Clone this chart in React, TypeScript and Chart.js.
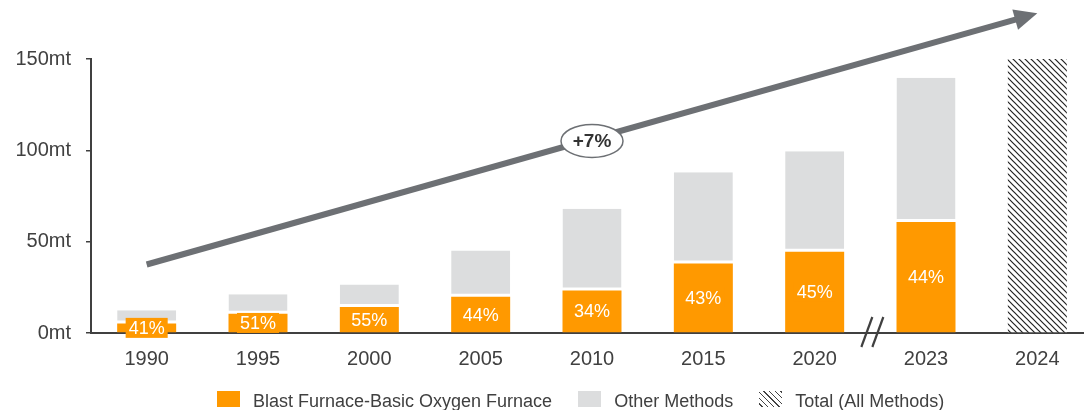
import React, { useEffect, useRef } from "react";
import { Chart, registerables } from "chart.js";

Chart.register(...registerables);

const years = ["1990", "1995", "2000", "2005", "2010", "2015", "2020", "2023", "2024"];
const bfBofValues = [5.2, 10.6, 14.2, 19.8, 23.3, 38.0, 44.5, 60.8, null];
const otherValues = [7.3, 10.6, 12.3, 25.3, 44.7, 50.0, 55.0, 79.0, null];
const totalValues = [null, null, null, null, null, null, null, null, 150];
const shareLabels = ["41%", "51%", "55%", "44%", "34%", "43%", "45%", "44%"];
const seriesNames = ["Blast Furnace-Basic Oxygen Furnace", "Other Methods", "Total (All Methods)"];
const cagrLabel = "+7%";
// trend arrow anchors (category index, value)
const arrowStart = { index: 0, value: 37.5 };
const arrowEnd = { index: 8, value: 175 };
const breakBetween = [6, 7];

const ORANGE = "#FF9900";
const GREY = "#DCDDDE";
const DARK = "#404040";
const ARROW = "#6D7074";
const FONT = "'Liberation Sans', Arial, sans-serif";

function makePattern(): CanvasPattern | string {
  const s = 6;
  const c = document.createElement("canvas");
  c.width = s;
  c.height = s;
  const g = c.getContext("2d");
  if (!g) return "#333";
  g.fillStyle = "#fff";
  g.fillRect(0, 0, s, s);
  g.strokeStyle = "#222";
  g.lineWidth = 1.2;
  g.beginPath();
  g.moveTo(0, 0);
  g.lineTo(s, s);
  g.moveTo(-1, s - 1);
  g.lineTo(1, s + 1);
  g.moveTo(s - 1, -1);
  g.lineTo(s + 1, 1);
  g.stroke();
  const p = g.createPattern(c, "repeat");
  return p || "#333";
}

const overlayPlugin = {
  id: "overlay",
  afterDatasetsDraw(chart: any) {
    const ctx = chart.ctx;
    const meta = chart.getDatasetMeta(0);
    ctx.save();
    ctx.font = `18px ${FONT}`;
    ctx.textAlign = "center";
    ctx.textBaseline = "middle";
    meta.data.forEach((bar: any, i: number) => {
      const label = shareLabels[i];
      if (!label) return;
      const cx = bar.x;
      const cy = (bar.y + bar.base) / 2;
      const w = ctx.measureText(label).width + 6;
      ctx.fillStyle = ORANGE;
      ctx.fillRect(cx - w / 2, cy - 10, w, 20);
      ctx.fillStyle = "#ffffff";
      ctx.fillText(label, cx, cy + 1);
    });
    ctx.restore();
  },
  afterDraw(chart: any) {
    const ctx = chart.ctx;
    const xs = chart.scales.x;
    const ys = chart.scales.y;
    ctx.save();
    // axis break marks
    const bx = (xs.getPixelForValue(breakBetween[0]) + xs.getPixelForValue(breakBetween[1])) / 2 + 2;
    const by = chart.chartArea.bottom;
    ctx.strokeStyle = DARK;
    ctx.lineWidth = 2.2;
    [-5.5, 5.5].forEach((off) => {
      ctx.beginPath();
      ctx.moveTo(bx + off - 5.5, by + 14);
      ctx.lineTo(bx + off + 5.5, by - 16);
      ctx.stroke();
    });
    // trend arrow
    const x1 = xs.getPixelForValue(arrowStart.index);
    const y1 = ys.getPixelForValue(arrowStart.value);
    const x2 = xs.getPixelForValue(arrowEnd.index);
    const y2 = ys.getPixelForValue(arrowEnd.value);
    const ang = Math.atan2(y2 - y1, x2 - x1);
    const headLen = 23;
    const headHalf = 10.5;
    const bxp = x2 - headLen * Math.cos(ang);
    const byp = y2 - headLen * Math.sin(ang);
    ctx.strokeStyle = ARROW;
    ctx.lineWidth = 6;
    ctx.beginPath();
    ctx.moveTo(x1, y1);
    ctx.lineTo(bxp + 2 * Math.cos(ang), byp + 2 * Math.sin(ang));
    ctx.stroke();
    ctx.fillStyle = ARROW;
    ctx.beginPath();
    ctx.moveTo(x2, y2);
    ctx.lineTo(bxp + headHalf * Math.sin(ang), byp - headHalf * Math.cos(ang));
    ctx.lineTo(bxp - headHalf * Math.sin(ang), byp + headHalf * Math.cos(ang));
    ctx.closePath();
    ctx.fill();
    // CAGR ellipse
    const ex = (x1 + x2) / 2;
    const ey = (y1 + y2) / 2 + 2;
    ctx.beginPath();
    ctx.ellipse(ex, ey, 31, 16.5, 0, 0, Math.PI * 2);
    ctx.fillStyle = "#ffffff";
    ctx.fill();
    ctx.lineWidth = 1.5;
    ctx.strokeStyle = ARROW;
    ctx.stroke();
    ctx.fillStyle = "#333333";
    ctx.font = `bold 19px ${FONT}`;
    ctx.textAlign = "center";
    ctx.textBaseline = "middle";
    ctx.fillText(cagrLabel, ex, ey + 1);
    ctx.restore();
  },
};

export default function App() {
  const ref = useRef<HTMLCanvasElement | null>(null);

  useEffect(() => {
    document.documentElement.style.overflow = "hidden";
    document.body.style.overflow = "hidden";
    const canvas = ref.current;
    if (!canvas) return;
    const pattern = makePattern();
    const chart = new Chart(canvas, {
      type: "bar",
      data: {
        labels: years,
        datasets: [
          {
            label: seriesNames[0],
            data: bfBofValues as any,
            backgroundColor: ORANGE,
            borderWidth: 0,
            barPercentage: 0.53,
            categoryPercentage: 1,
          },
          {
            label: seriesNames[1],
            data: otherValues as any,
            backgroundColor: GREY,
            borderColor: "#ffffff",
            borderWidth: { top: 0, left: 0, right: 0, bottom: 3 } as any,
            borderSkipped: false,
            barPercentage: 0.53,
            categoryPercentage: 1,
          },
          {
            label: seriesNames[2],
            data: totalValues as any,
            backgroundColor: pattern as any,
            borderWidth: 0,
            barPercentage: 0.53,
            categoryPercentage: 1,
          },
        ],
      },
      options: {
        responsive: false,
        animation: false,
        layout: { padding: { top: 59, bottom: 0, left: 0, right: 0 } },
        plugins: {
          legend: { display: false },
          tooltip: { enabled: false },
        },
        scales: {
          x: {
            stacked: true,
            grid: { display: false },
            border: { display: true, color: DARK, width: 2 },
            ticks: { color: DARK, font: { size: 20, family: FONT }, padding: 6 },
            afterFit(scale: any) {
              scale.height = 77;
            },
          },
          y: {
            stacked: true,
            min: 0,
            max: 150,
            grid: {
              display: true,
              drawOnChartArea: false,
              drawTicks: true,
              tickLength: 5,
              color: DARK,
              lineWidth: 1.5,
            },
            border: { display: true, color: DARK, width: 2 },
            ticks: {
              stepSize: 50,
              color: DARK,
              padding: 15,
              font: { size: 20, family: FONT },
              callback: (v: any) => `${v}mt`,
            },
            afterFit(scale: any) {
              scale.width = 91;
            },
          },
        },
      },
      plugins: [overlayPlugin],
    });
    return () => chart.destroy();
  }, []);

  const itemText: React.CSSProperties = {
    fontFamily: FONT,
    fontSize: 18,
    color: DARK,
    lineHeight: "18px",
    whiteSpace: "nowrap",
  };
  const box = (bg: string): React.CSSProperties => ({
    width: 23,
    height: 16,
    background: bg,
    marginRight: 13,
    position: "relative",
    top: -1,
    flex: "none",
  });

  return (
    <div style={{ position: "absolute", left: 0, top: 0, width: 1093, height: 410 }}>
      <canvas ref={ref} width={1093} height={410} style={{ display: "block" }} />
      <div
        style={{
          position: "absolute",
          left: 217,
          top: 392,
          display: "flex",
          alignItems: "flex-start",
          height: 18,
        }}
      >
        <div style={box(ORANGE)} />
        <div style={{ ...itemText, marginRight: 26 }}>{seriesNames[0]}</div>
        <div style={box(GREY)} />
        <div style={{ ...itemText, marginRight: 26 }}>{seriesNames[1]}</div>
        <div
          style={{
            ...box("#fff"),
            backgroundImage:
              "repeating-linear-gradient(45deg, #fff 0px, #fff 2px, #444 2px, #444 3px, #fff 3px, #fff 4px)",
          }}
        />
        <div style={itemText}>{seriesNames[2]}</div>
      </div>
    </div>
  );
}
